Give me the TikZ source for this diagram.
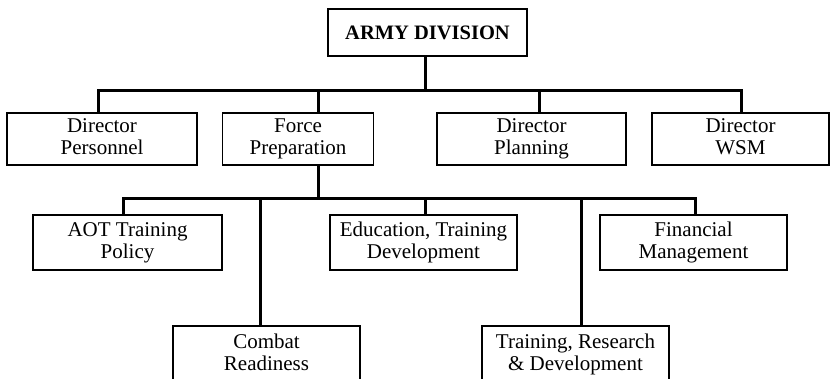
\documentclass[tikz,border=0pt]{standalone}
\usepackage{fontspec}
\setmainfont{Liberation Serif}
\begin{document}
\begin{tikzpicture}[x=1pt,y=-1pt,
  box/.style={draw,line width=1.2pt,align=center,inner sep=0pt,
    font=\fontsize{21}{22}\selectfont,
    execute at begin node={\rule{0pt}{18pt}},execute at end node={\vphantom{Ag}}},
  conn/.style={line width=3pt}]
\useasboundingbox (0,0) rectangle (832,379);
% boxes
\node[box,minimum width=199,minimum height=47,font=\bfseries\fontsize{20.5}{22}\selectfont] (army) at (427.5,32.5) {ARMY DIVISION};
\node[box,minimum width=190,minimum height=52] (pers) at (102,139) {Director\\Personnel};
\node[box,minimum width=151,minimum height=52] (fp) at (298,139) {Force\\Preparation};
\node[box,minimum width=189,minimum height=52] (plan) at (531.5,139) {Director\\Planning};
\node[box,minimum width=177,minimum height=52] (wsm) at (740.5,139) {Director\\WSM};
\node[box,minimum width=189,minimum height=55] (aot) at (127.5,242.5) {AOT Training\\Policy};
\node[box,minimum width=187,minimum height=55] (edu) at (423.5,242.5) {Education, Training\\Development};
\node[box,minimum width=187,minimum height=55] (fin) at (693.5,242.5) {Financial\\Management};
\node[box,minimum width=187,minimum height=56] (cr) at (266.5,354) {Combat\\Readiness};
\node[box,minimum width=187,minimum height=56] (trd) at (575.5,354) {Training, Research\\\& Development};
% junctions
\coordinate (j1) at (425,91);
\coordinate (b1l) at (98,91);
\coordinate (b1r) at (741,91);
\coordinate (dfp) at (318,91);
\coordinate (dplan) at (539,91);
\coordinate (j2) at (318,199);
\coordinate (b2l) at (123,199);
\coordinate (b2r) at (695,199);
\coordinate (dcr) at (260,199);
\coordinate (dedu) at (425,199);
\coordinate (dtrd) at (581,199);
% connectors
\draw[conn] (army.south -| j1) -- (j1);
\draw[conn] (b1l |- pers.north) -- (b1l) -- (b1r) -- (b1r |- wsm.north);
\draw[conn] (dfp) -- (dfp |- fp.north);
\draw[conn] (dplan) -- (dplan |- plan.north);
\draw[conn] (fp.south -| j2) -- (j2);
\draw[conn] (b2l |- aot.north) -- (b2l) -- (b2r) -- (b2r |- fin.north);
\draw[conn] (dcr) -- (dcr |- cr.north);
\draw[conn] (dedu) -- (dedu |- edu.north);
\draw[conn] (dtrd) -- (dtrd |- trd.north);
\end{tikzpicture}
\end{document}
